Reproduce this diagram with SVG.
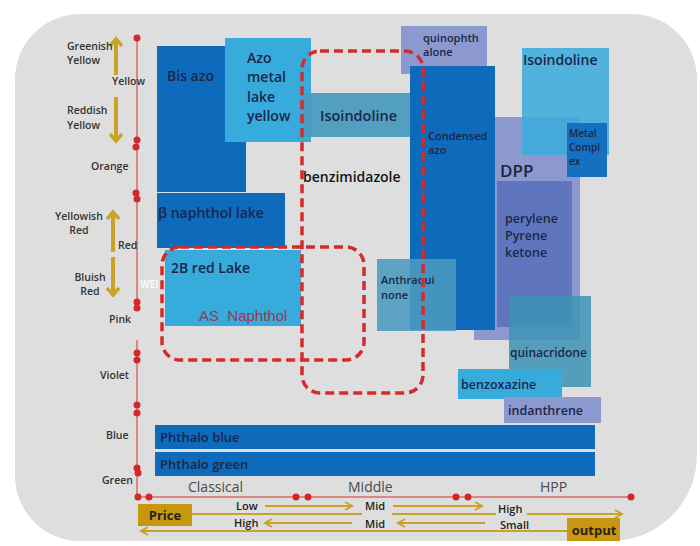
<svg xmlns="http://www.w3.org/2000/svg" width="700" height="546" viewBox="0 0 700 546">
<defs>
<style>
.t{font-family:"Open Sans","Liberation Sans",sans-serif;font-weight:600;fill:#1a2748}
.lab{font-family:"Open Sans","Liberation Sans",sans-serif;font-weight:600;font-size:10.5px;fill:#333}
.ax{font-family:"Open Sans","Liberation Sans",sans-serif;font-weight:400;font-size:14px;fill:#4a4a4a}
.pl{font-family:"Open Sans","Liberation Sans",sans-serif;font-weight:600;font-size:11px;fill:#222}
.dk{fill:#0e6abb}
.lt{fill:#38abdd}
.tl{fill:#4b9bbf}
.lv{fill:#8b99cf}
.dash{fill:none;stroke:#d42b2b;stroke-width:3.5;stroke-dasharray:9 5}
.gl{stroke:#c9a227;stroke-width:2;fill:none}
.ga{stroke:#c9a227;stroke-width:4;fill:none}
.rd{fill:#d42828}
.lbg{fill:#dedede}
</style>
<marker id="ah" markerWidth="10" markerHeight="10" refX="8" refY="5" orient="auto" markerUnits="userSpaceOnUse">
<path d="M1,1 L8,5 L1,9" fill="none" stroke="#c9a227" stroke-width="2"/>
</marker>
<marker id="ahb" markerWidth="14" markerHeight="14" refX="8" refY="7" orient="auto" markerUnits="userSpaceOnUse">
<path d="M1,1 L8,7 L1,13" fill="none" stroke="#c9a227" stroke-width="3.5"/>
</marker>
</defs>
<rect x="0" y="0" width="700" height="546" fill="#ffffff"/>
<path d="M80,14 H632 A65,65 0 0 1 697,79 V455 A86,86 0 0 1 611,541 H80 A65,65 0 0 1 15,476 V79 A65,65 0 0 1 80,14 Z" fill="#dedede"/>

<g id="color-axis">
<path d="M137,38 V311 M137,340 V497 H632" stroke="#d43030" stroke-width="1" fill="none"/>
<circle class="rd" cx="137" cy="38" r="3.5"/>
<circle class="rd" cx="137" cy="140" r="3.5"/><circle class="rd" cx="136" cy="147" r="3.5"/>
<circle class="rd" cx="136" cy="193" r="3.5"/><circle class="rd" cx="137" cy="199" r="3.5"/>
<circle class="rd" cx="137" cy="302" r="3.5"/><circle class="rd" cx="137" cy="308" r="3.5"/>
<circle class="rd" cx="137" cy="353" r="3.5"/><circle class="rd" cx="137" cy="360" r="3.5"/>
<circle class="rd" cx="137" cy="405" r="3.5"/><circle class="rd" cx="137" cy="413" r="3.5"/>
<circle class="rd" cx="137" cy="468" r="3.5"/><circle class="rd" cx="138" cy="473" r="3.5"/>
<circle class="rd" cx="138" cy="497" r="3.5"/><circle class="rd" cx="149" cy="497" r="3.5"/>
<circle class="rd" cx="296" cy="497" r="3.5"/><circle class="rd" cx="308" cy="497" r="3.5"/>
<circle class="rd" cx="456" cy="497" r="3.5"/><circle class="rd" cx="468" cy="497" r="3.5"/>
<circle class="rd" cx="631" cy="497" r="3.5"/>
<line class="ga" x1="116" y1="75" x2="116" y2="39" marker-end="url(#ahb)"/>
<line class="ga" x1="116" y1="97" x2="116" y2="141" marker-end="url(#ahb)"/>
<line class="ga" x1="113" y1="252" x2="113" y2="212" marker-end="url(#ahb)"/>
<line class="ga" x1="113" y1="257" x2="113" y2="295" marker-end="url(#ahb)"/>
<text class="lab" x="67" y="50">Greenish</text>
<text class="lab" x="67" y="64">Yellow</text>
<text class="lab" x="112" y="85">Yellow</text>
<text class="lab" x="67" y="114">Reddish</text>
<text class="lab" x="67" y="129">Yellow</text>
<text class="lab" x="91" y="170">Orange</text>
<text class="lab" x="79" y="220" text-anchor="middle">Yellowish</text>
<text class="lab" x="79" y="234" text-anchor="middle">Red</text>
<text class="lab" x="118" y="249">Red</text>
<text class="lab" x="90" y="281" text-anchor="middle">Bluish</text>
<text class="lab" x="90" y="295" text-anchor="middle">Red</text>
<text class="lab" x="109" y="323">Pink</text>
<text class="lab" x="100" y="379">Violet</text>
<text class="lab" x="106" y="439">Blue</text>
<text class="lab" x="102" y="484">Green</text>
<text class="ax" x="188" y="492">Classical</text>
<text class="ax" x="348" y="492">Middle</text>
<text class="ax" x="540" y="492">HPP</text>
</g>

<g id="bis-azo"><rect class="dk" x="157" y="46" width="89" height="146"/><text class="t" x="167" y="81" font-size="14">Bis azo</text></g>
<g id="azo-metal-lake-yellow"><rect class="lt" x="225" y="38" width="86" height="104"/>
<text class="t" font-size="14"><tspan x="247" y="63">Azo</tspan><tspan x="247" y="82">metal</tspan><tspan x="247" y="102">lake</tspan><tspan x="247" y="121">yellow</tspan></text></g>
<g id="isoindoline-mid"><rect class="tl" x="303" y="93" width="107" height="44" opacity="0.95"/><text class="t" x="320" y="121" font-size="14.5">Isoindoline</text></g>
<g id="b-naphthol-lake"><rect class="dk" x="157" y="193" width="128" height="55"/><text class="t" x="158" y="218" font-size="14">β naphthol lake</text></g>
<g id="red-lake-2b"><rect class="lt" x="165" y="250" width="136" height="76"/><text class="t" x="171" y="273" font-size="14">2B red Lake</text>
<text x="199" y="321" style="font-family:'Liberation Sans',Arial,sans-serif;font-size:15px;fill:#9a3550" xml:space="preserve">AS  Naphthol</text></g>
<g id="quinophthalone"><rect class="lv" x="401" y="26" width="86" height="48"/><text class="t" font-size="11"><tspan x="423" y="42">quinophth</tspan><tspan x="423" y="56">alone</tspan></text></g>
<g id="dpp"><rect class="lv" x="474" y="117" width="106" height="223"/><text x="500" y="177" style="font-family:'Open Sans','Liberation Sans',sans-serif;font-size:17px;font-weight:600;fill:#1c2340">DPP</text></g>
<g id="condensed-azo"><rect class="dk" x="410" y="66" width="85" height="264"/><text class="t" font-size="11"><tspan x="428" y="140">Condensed</tspan><tspan x="428" y="154">azo</tspan></text></g>
<g id="anthraquinone"><rect class="tl" x="377" y="259" width="79" height="72" opacity="0.88"/><text class="t" font-size="11"><tspan x="381" y="284">Anthraqui</tspan><tspan x="381" y="299">none</tspan></text></g>
<g id="perylene"><rect x="497" y="181" width="75" height="146" fill="#5f75bd"/><text class="t" font-size="12.5"><tspan x="505" y="223">perylene</tspan><tspan x="505" y="240">Pyrene</tspan><tspan x="505" y="257">ketone</tspan></text></g>
<g id="isoindoline-hpp"><rect class="lt" x="522" y="48" width="87" height="107" opacity="0.85"/><text class="t" x="523" y="65" font-size="14">Isoindoline</text></g>
<g id="metal-complex"><rect x="567" y="123" width="40" height="54" fill="#1570c0"/><text class="t" font-size="10"><tspan x="569" y="137">Metal</tspan><tspan x="569" y="151">Compl</tspan><tspan x="569" y="165">ex</tspan></text></g>
<g id="quinacridone"><rect x="509" y="296" width="82" height="91" fill="#3d93b5" opacity="0.85"/><text class="t" x="510" y="357" font-size="12">quinacridone</text></g>
<g id="benzoxazine"><rect class="lt" x="458" y="369" width="104" height="30"/><text class="t" x="461" y="389" font-size="12.5">benzoxazine</text></g>
<g id="indanthrene"><rect class="lv" x="504" y="397" width="97" height="26"/><text class="t" x="508" y="415" font-size="12.5">indanthrene</text></g>
<g id="phthalo-blue"><rect class="dk" x="155" y="425" width="440" height="24"/><text class="t" x="160" y="442" font-size="13">Phthalo blue</text></g>
<g id="phthalo-green"><rect class="dk" x="155" y="452" width="440" height="24"/><text class="t" x="160" y="469" font-size="13">Phthalo green</text></g>

<g id="groups">
<rect class="dash" x="162" y="247" width="202" height="113" rx="18"/>
<rect class="dash" x="302" y="51" width="121" height="342" rx="18"/>
</g>
<g id="benzimidazole"><text x="303" y="182" style="font-family:'Open Sans','Liberation Sans',sans-serif;font-weight:600;font-size:14px;fill:#151515">benzimidazole</text></g>
<text x="140" y="288" style="font-family:'Open Sans','Liberation Sans',sans-serif;font-weight:700;font-size:10px;fill:#ffffff;opacity:0.85">WEI</text>

<g id="connectors">
<line class="gl" x1="192" y1="514" x2="622" y2="514" marker-end="url(#ah)"/>
<line class="gl" x1="567" y1="531" x2="141" y2="531" marker-end="url(#ah)"/>
<line class="gl" x1="265" y1="506" x2="352" y2="506" marker-end="url(#ah)"/>
<line class="gl" x1="393" y1="506" x2="482" y2="506" marker-end="url(#ah)"/>
<line class="gl" x1="352" y1="523" x2="265" y2="523" marker-end="url(#ah)"/>
<line class="gl" x1="485" y1="523" x2="398" y2="523" marker-end="url(#ah)"/>
</g>
<g id="rate-labels">
<rect class="lbg" x="362" y="499" width="30" height="17"/>
<rect class="lbg" x="496" y="502" width="31" height="16"/>
<rect class="lbg" x="362" y="516" width="30" height="13"/>
<rect class="lbg" x="497" y="517" width="36" height="12"/>
<text class="pl" x="236" y="510">Low</text>
<text class="pl" x="365" y="510">Mid</text>
<text class="pl" x="498" y="513">High</text>
<text class="pl" x="234" y="527">High</text>
<text class="pl" x="365" y="528">Mid</text>
<text class="pl" x="500" y="529">Small</text>
</g>
<g id="price"><rect x="138" y="504" width="54" height="22" fill="#c7980f"/><text x="165" y="520" text-anchor="middle" style="font-family:'Open Sans','Liberation Sans',sans-serif;font-weight:700;font-size:13px;fill:#2a2210">Price</text></g>
<g id="output"><rect x="567" y="518" width="53" height="23" fill="#c7980f"/><text x="594" y="535" text-anchor="middle" style="font-family:'Open Sans','Liberation Sans',sans-serif;font-weight:700;font-size:13px;fill:#2a2210">output</text></g>
</svg>
